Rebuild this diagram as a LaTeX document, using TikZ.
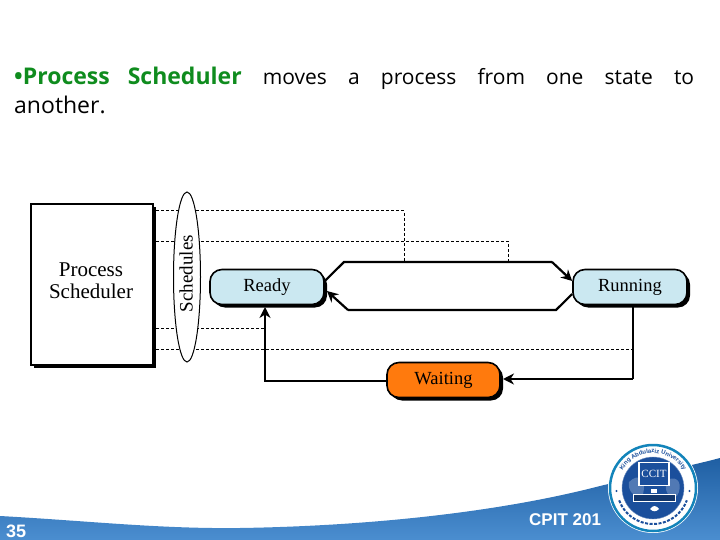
\documentclass[tikz,border=0pt]{standalone}
\usepackage{fontspec}
\setmainfont{Open Sans}
\newfontfamily\figfont{Liberation Serif}
\newfontfamily\footfont{Liberation Sans}
\usetikzlibrary{arrows.meta,shapes.geometric,shadows,backgrounds,decorations.text}
\definecolor{headgreen}{HTML}{0F8C1E}
\definecolor{stateblue}{HTML}{CBE8F1}
\definecolor{stateorange}{HTML}{FF7A0D}
\definecolor{banddark}{HTML}{1F5FA3}
\definecolor{bandlight}{HTML}{4B8ED0}
\definecolor{logoblue}{HTML}{1B4F9C}
\tikzset{
  blackshadow/.style={drop shadow={shadow xshift=3pt,shadow yshift=-3pt,fill=black,opacity=1}},
  statebox/.style={draw=black,line width=1.6pt,rounded corners=12pt,minimum width=114pt,minimum height=35pt,inner sep=0pt,blackshadow,font=\figfont\fontsize{18.5}{20}\selectfont},
  flow/.style={draw=black,line width=2.2pt,-{Stealth[length=11pt,width=11pt]},line join=miter},
  plain/.style={draw=black,line width=2.2pt},
  dashline/.style={draw=black,line width=1pt,dash pattern=on 3pt off 2pt}
}
\begin{document}
\begin{tikzpicture}[x=1pt,y=-1pt]
\useasboundingbox (0,0) rectangle (720,540);
% footer band
\shade[top color=banddark,bottom color=bandlight]
  (0,516) .. controls (90,521) and (160,529) .. (240,528)
  .. controls (370,526) and (500,512) .. (600,486)
  .. controls (650,474) and (690,466) .. (720,458)
  -- (720,540) -- (0,540) -- cycle;
% heading
\node[anchor=north west,inner sep=0pt,text width=682pt,align=left,font=\fontsize{21}{29}\selectfont] (head) at (14,67)
  {\hbox to 680pt{\textcolor{headgreen}{\fontsize{23}{29}\selectfont\textbf{•Process\hspace{18pt}Scheduler}}\hfill moves\hfill a\hfill process\hfill from\hfill one\hfill state\hfill to}\\{\fontsize{23}{29}\selectfont another.}};
% diagram
\node[draw=black,line width=1.6pt,minimum width=122pt,minimum height=161pt,inner sep=0pt,blackshadow,fill=white] (proc) at (92,284.5) {};
\node[inner sep=0pt,align=center,font=\figfont\fontsize{21}{22}\selectfont] (proctext) at (91,281) {Process\\Scheduler};
\node[draw=black,line width=1pt,fill=white,ellipse,minimum width=27pt,minimum height=170pt,inner sep=0pt] (sched) at (187,277) {};
\node[rotate=90,inner sep=0pt,font=\figfont\fontsize{19}{20}\selectfont] (schedtext) at (186,273.5) {Schedules};
\node[statebox,fill=stateblue] (ready) at (267,287) {Ready};
\node[statebox,fill=stateblue] (running) at (630,287) {Running};
\node[statebox,fill=stateorange,minimum width=113pt] (waiting) at (443.5,380) {Waiting};
% waypoints
\coordinate (a) at (344,262);
\coordinate (b) at (552,262);
\coordinate (c) at (556,310);
\coordinate (d) at (348,310);
\coordinate (e) at (633,379);
\coordinate (f) at (265,381);
\coordinate (g) at (404,211);
\coordinate (h) at (508,241);
\coordinate (i) at (265,328);
\coordinate (j) at (633,349);
\coordinate (k) at (327,291);
\coordinate (m) at (503,379);
\coordinate (n) at (265,307);
% connectors
\draw[plain] (ready.east |- 0,281) -- (a) -- (b);
\draw[flow] (b) -- (running.west |- 0,281);
\draw[plain] (running.west |- 0,294) -- (c) -- (d);
\draw[flow] (d) -- (k);
\draw[plain] (running.south -| e) -- (e);
\draw[flow] (e) -- (m);
\draw[flow] (waiting.west |- f) -- (f) -- (n);
\begin{pgfonlayer}{background}
\draw[dashline] (156,211) -- (g) -- (g |- a);
\draw[dashline] (156,241) -- (h) -- (h |- a);
\draw[dashline] (156,328) -- (i);
\draw[dashline] (156,349) -- (j);
\end{pgfonlayer}
% footer texts
\node[anchor=base west,inner sep=0pt,text=white,font=\footfont\bfseries\fontsize{18}{18}\selectfont] (page) at (6,537) {35};
\node[anchor=base west,inner sep=0pt,text=white,font=\footfont\bfseries\fontsize{17}{18}\selectfont] (course) at (529,525) {CPIT 201};
% logo
\begin{scope}[shift={(653,488)},x=1pt,y=1pt]
  \fill[white] (0,0) circle[radius=45pt];
  \draw[color=logoblue!70!cyan,line width=2.5pt] (0,0) circle[radius=43pt];
  \fill[logoblue] (0,0) circle[radius=31pt];
  \fill[logoblue!60!white,opacity=.6] (-24,6) .. controls (-14,16) and (-6,8) .. (-10,-6) .. controls (-16,-12) and (-26,-4) .. (-24,6);
  \fill[logoblue!60!white,opacity=.6] (14,8) .. controls (26,14) and (30,2) .. (24,-8) .. controls (16,-12) and (10,-2) .. (14,8);
  \draw[logoblue!60!white] (0,0) circle[radius=31pt];
  \node[draw=white,line width=1.2pt,fill=logoblue,minimum width=30pt,minimum height=23pt,inner sep=0pt,text=white,font=\figfont\fontsize{11}{12}\selectfont] (ccit) at (1,14) {CCIT};
  \fill[white] (-2,-1) rectangle (4,-5);
  \node[fill=logoblue!70!black,draw=white,line width=.4pt,minimum width=42pt,minimum height=7pt,inner sep=0pt] (banner) at (1,-10) {};
  \fill[white] (-3,-21) .. controls (0,-17) and (3,-17) .. (6,-21) .. controls (3,-24) and (0,-24) .. (-3,-21);
  \path[postaction={decorate},decoration={text along path,text align=center,
      text={|\footfont\bfseries\fontsize{6}{7}\selectfont\color{logoblue}|King Abdulaziz University}}]
      (170:35pt) arc[start angle=170,end angle=10,radius=35pt];
  \fill[logoblue] (-36.5,-3) circle[radius=1.2pt] (36.5,-3) circle[radius=1.2pt];
  \draw[logoblue,line width=2pt,dash pattern=on 3pt off 1.5pt] (-160:36pt) arc[start angle=-160,end angle=-20,radius=36pt];
\end{scope}
\end{tikzpicture}
\end{document}
